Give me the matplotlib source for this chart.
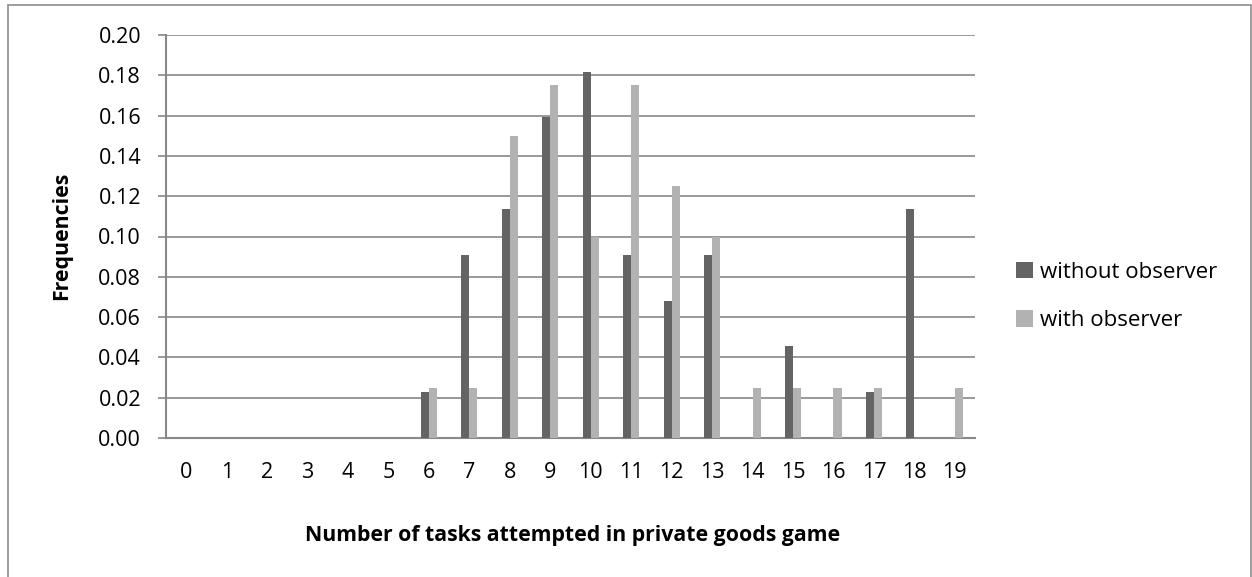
import matplotlib
matplotlib.use("Agg")
import matplotlib.pyplot as plt
from matplotlib.patches import Rectangle
import numpy as np

plt.rcParams['font.family'] = ['Open Sans', 'DejaVu Sans']

categories = [str(i) for i in range(20)]
without_observer = [0, 0, 0, 0, 0, 0, 0.0227, 0.0909, 0.1136, 0.1591, 0.1818,
                    0.0909, 0.0682, 0.0909, 0, 0.0455, 0, 0.0227, 0.1136, 0]
with_observer = [0, 0, 0, 0, 0, 0, 0.025, 0.025, 0.15, 0.175, 0.10,
                 0.175, 0.125, 0.10, 0.025, 0.025, 0.025, 0.025, 0, 0.025]
yticks = [0.00, 0.02, 0.04, 0.06, 0.08, 0.10, 0.12, 0.14, 0.16, 0.18, 0.20]

W, H = 1252, 577
fig = plt.figure(figsize=(W / 100, H / 100), dpi=100)
ax = fig.add_axes([166 / W, 1 - 438 / H, (975 - 166) / W, (438 - 35) / H])

x = np.arange(len(categories))
bw = 0.2
dark = '#646464'
light = '#b2b2b2'
b1 = ax.bar(x + 0.5 - bw / 2, without_observer, bw, color=dark, label='without observer', zorder=3)
b2 = ax.bar(x + 0.5 + bw / 2, with_observer, bw, color=light, label='with observer', zorder=3)

ax.set_xlim(0, len(categories))
ax.set_ylim(0, 0.20)
ax.set_yticks(yticks)
ax.set_yticklabels([f"{v:.2f}" for v in yticks])
ax.set_xticks(x + 0.5)
ax.set_xticklabels(categories)

grid_c = '#888888'
ax.yaxis.grid(True, color=grid_c, linewidth=1.2, zorder=0)
ax.set_axisbelow(True)
for s in ['top', 'right']:
    ax.spines[s].set_visible(False)
for s in ['left', 'bottom']:
    ax.spines[s].set_color(grid_c)
    ax.spines[s].set_linewidth(1.5)

fs = 15.5
ax.tick_params(axis='y', direction='out', length=6, width=1.2, color=grid_c,
               labelsize=fs, pad=12)
ax.tick_params(axis='x', length=0, labelsize=fs, pad=17)

fig.text(573 / W, 1 - 535 / H, 'Number of tasks attempted in private goods game',
         ha='center', va='center', fontsize=15.3, fontweight='bold')
fig.text(62 / W, 1 - 236 / H, 'Frequencies', ha='center', va='center',
         rotation=90, fontsize=15.3, fontweight='bold')

leg = fig.legend(handles=[b1, b2], loc='upper left',
                 bbox_to_anchor=(1007 / W, 1 - 253 / H), frameon=False,
                 fontsize=16, handlelength=0.75, handleheight=0.75,
                 handletextpad=0.35, labelspacing=1.23, borderaxespad=0)

fig.patches.append(Rectangle((8 / W, -0.05), (1251 - 8) / W, 1.05 - 5 / H,
                             transform=fig.transFigure, fill=False,
                             edgecolor='#8c8c8c', linewidth=1.2))

fig.savefig('out.png', dpi=100)
